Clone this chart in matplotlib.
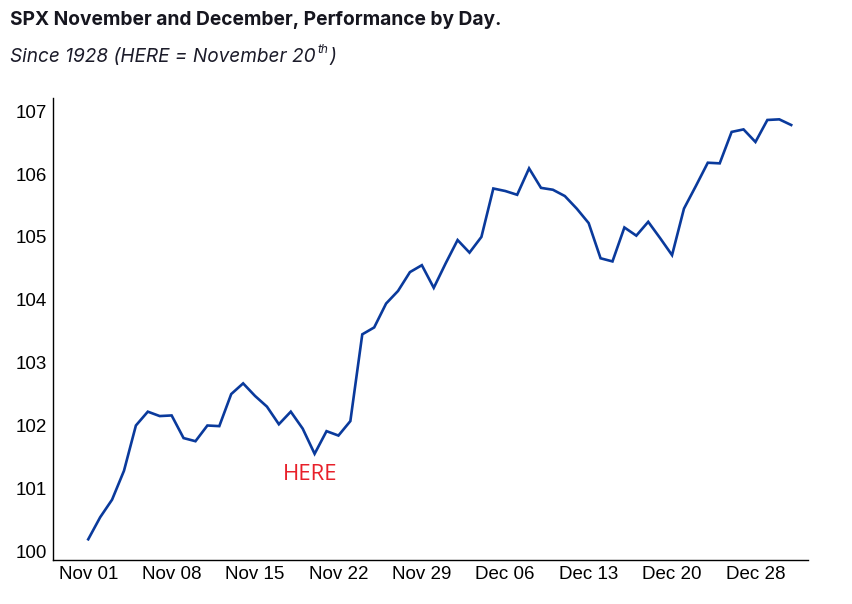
import numpy as np
import pandas as pd
import matplotlib
matplotlib.use('Agg')
import matplotlib.pyplot as plt

# average path of SPX through Nov/Dec (indexed to 100), one value per calendar day, Dec 25 skipped
dates = [d for d in pd.date_range('2023-11-01', '2023-12-31') if not (d.month == 12 and d.day == 25)]
values = [
    100.19, 100.54, 100.82, 101.28, 102.00, 102.22, 102.15, 102.16, 101.80, 101.75,
    102.00, 101.99, 102.50, 102.67, 102.47, 102.30, 102.02, 102.22, 101.95, 101.55,
    101.91, 101.84, 102.07, 103.45, 103.56, 103.94, 104.14, 104.44, 104.55, 104.19,
    104.58, 104.95, 104.75, 105.00, 105.77, 105.73, 105.67, 106.09, 105.78, 105.75,
    105.65, 105.45, 105.22, 104.66, 104.61, 105.15, 105.02, 105.24, 104.98, 104.71,
    105.45, 105.81, 106.18, 106.17, 106.67, 106.71, 106.51, 106.86, 106.87, 106.78,
]
y_ticks = [100, 101, 102, 103, 104, 105, 106, 107]
here_index = 19  # Nov 20

fig = plt.figure(figsize=(8.53, 6.04), dpi=100)
ax = fig.add_axes([0.0621, 0.0728, 0.885, 0.765])

x = np.arange(len(values))
ax.plot(x, values, color='#0a3a9c', linewidth=1.9, solid_joinstyle='miter')

tick_idx = x[::7]
ax.set_xticks(tick_idx)
ax.set_xticklabels([dates[i].strftime('%b %d') for i in tick_idx])
ax.set_yticks(y_ticks)
ax.set_xlim(-2.96, 60.4)
ax.set_ylim(99.86, 107.21)

for s in ['top', 'right']:
    ax.spines[s].set_visible(False)
for s in ['left', 'bottom']:
    ax.spines[s].set_linewidth(1.0)
    ax.spines[s].set_color('black')
ax.tick_params(length=0, labelsize=13.5, pad=4.5)
for lab in ax.get_xticklabels() + ax.get_yticklabels():
    lab.set_family('Liberation Sans')

ax.text(here_index - 0.4, values[here_index] - 0.33, 'HERE', color='#e8202a', fontsize=16,
        family='Open Sans', ha='center', va='center')

fig.text(0.0117, 0.967, 'SPX November and December, Performance by Day.', fontsize=13.8,
         fontweight='bold', family='Inter', color='#16161f', va='center')

# subtitle with a superscript "th"
sub_kw = dict(family='Inter', style='italic', color='#1c1c2a')
t1 = fig.text(0.0117, 0.9056, 'Since 1928 (HERE = November 20', fontsize=13.7, va='center', **sub_kw)
fig.canvas.draw()
r = fig.canvas.get_renderer()
bb = t1.get_window_extent(r)
t2 = fig.text((bb.x1 + 2) / fig.bbox.width, 0.9056 + 0.012, 'th', fontsize=8.5, va='center', **sub_kw)
bb2 = t2.get_window_extent(r)
fig.text((bb2.x1 + 1) / fig.bbox.width, 0.9056, ')', fontsize=13.7, va='center', **sub_kw)

fig.savefig('out.png', dpi=100)
